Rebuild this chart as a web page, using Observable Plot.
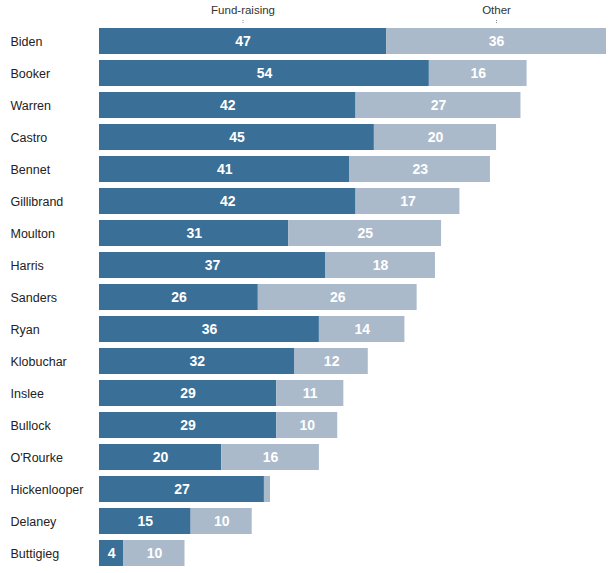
<!DOCTYPE html>
<html><head><meta charset="utf-8">
<script src="https://cdn.jsdelivr.net/npm/d3@7"></script>
<script src="https://cdn.jsdelivr.net/npm/@observablehq/plot@0.6"></script>
<style>
body{margin:0;background:#fff;}
#chart svg{display:block;}
</style>
</head><body><div id="chart"></div>
<script>
const candidates = ["Biden","Booker","Warren","Castro","Bennet","Gillibrand","Moulton","Harris","Sanders","Ryan","Klobuchar","Inslee","Bullock","O'Rourke","Hickenlooper","Delaney","Buttigieg"];
const fundraising = [47,54,42,45,41,42,31,37,26,36,32,29,29,20,27,15,4];
const other = [36,16,27,20,23,17,25,18,26,14,12,11,10,16,1,10,10];
const seriesNames = ["Fund-raising","Other"];
const colors = ["#3a6f97","#abbacb"];

const rows = [];
candidates.forEach((c,i)=>{
  rows.push({name:c, series:seriesNames[0], x1:0, x2:fundraising[i], v:fundraising[i]});
  rows.push({name:c, series:seriesNames[1], x1:fundraising[i], x2:fundraising[i]+other[i], v:other[i]});
});
const header = rows.filter(d=>d.name===candidates[0]);

const chart = Plot.plot({
  width:613, height:573,
  marginLeft:99, marginRight:7, marginTop:23, marginBottom:2,
  style:{fontFamily:"Liberation Sans, Arial, sans-serif", background:"#fff"},
  x:{domain:[0,83], axis:null},
  y:{domain:candidates, axis:null, paddingInner:0.194, paddingOuter:0.097},
  color:{domain:seriesNames, range:colors},
  marks:[
    Plot.barX(rows,{y:"name", x1:"x1", x2:"x2", fill:"series"}),
    Plot.text(rows.filter(d=>d.v>=3),{y:"name", x:d=>(d.x1+d.x2)/2, text:d=>String(d.v), fill:"white", fontWeight:"bold", fontSize:14}),
    Plot.text(candidates,{y:d=>d, frameAnchor:"left", dx:-89, textAnchor:"start", text:d=>d, fill:"#222", fontSize:12.5}),
    Plot.text(header,{y:"name", x:d=>(d.x1+d.x2)/2, text:"series", dy:-31, fill:"#333", fontSize:11.5}),
    Plot.tickX(header,{y:"name", x:d=>(d.x1+d.x2)/2, dy:-8, insetTop:0, insetBottom:22, stroke:"#888", strokeDasharray:"1,1"})
  ]
});
document.getElementById("chart").appendChild(chart);
</script>
</body></html>
